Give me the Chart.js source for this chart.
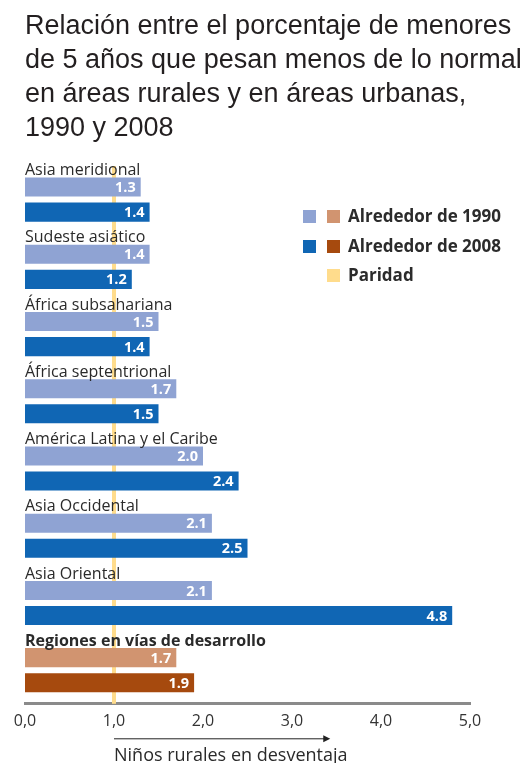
<!DOCTYPE html>
<html>
<head>
<meta charset="utf-8">
<script src="https://cdn.jsdelivr.net/npm/chart.js@4.4.1/dist/chart.umd.min.js"></script>
<style>
  body { margin: 0; background: #fff; }
  #wrap { position: relative; width: 526px; height: 763px; }
  #title {
    position: absolute; left: 25px; top: 8px;
    font-family: "Liberation Sans", Arial, sans-serif; font-size: 27px; line-height: 34px;
    color: #231f20;
  }
  .leg { position: absolute; font-family: "Open Sans", sans-serif; font-weight: bold; font-size: 17px; color: #2b2b2b; }
  .sw { position: absolute; width: 13px; height: 13px; }
  canvas { position: absolute; left: 0; top: 0; }
</style>
</head>
<body>
<div id="wrap">
  <canvas id="chart" width="526" height="763"></canvas>
  <div id="title">Relación entre el porcentaje de menores<br>de 5 años que pesan menos de lo normal<br>en áreas rurales y en áreas urbanas,<br>1990 y 2008</div>
  <div class="sw" style="left:303px;top:210px;background:#8fa3d3"></div>
  <div class="sw" style="left:327px;top:210px;background:#d19470"></div>
  <div class="leg" style="left:348px;top:204px">Alrededor de 1990</div>
  <div class="sw" style="left:303px;top:240px;background:#1066b4"></div>
  <div class="sw" style="left:327px;top:240px;background:#a64a0e"></div>
  <div class="leg" style="left:348px;top:234px">Alrededor de 2008</div>
  <div class="sw" style="left:327px;top:269px;background:#ffdc8c"></div>
  <div class="leg" style="left:348px;top:263px">Paridad</div>
</div>
<script>
const regions = ['Asia meridional', 'Sudeste asiático', 'África subsahariana', 'África septentrional',
  'América Latina y el Caribe', 'Asia Occidental', 'Asia Oriental', 'Regiones en vías de desarrollo'];
const around1990 = [1.3, 1.4, 1.5, 1.7, 2.0, 2.1, 2.1, 1.7];
const around2008 = [1.4, 1.2, 1.4, 1.5, 2.4, 2.5, 4.8, 1.9];
const xTicks = [0, 1, 2, 3, 4, 5];
const parity = 1.0;

const color1990 = regions.map((r, i) => i === regions.length - 1 ? '#d19470' : '#8fa3d3');
const color2008 = regions.map((r, i) => i === regions.length - 1 ? '#a64a0e' : '#1066b4');

const extras = {
  id: 'extras',
  beforeDatasetsDraw(chart) {
    const { ctx, chartArea, scales: { x } } = chart;
    const px = x.getPixelForValue(parity);
    ctx.save();
    ctx.fillStyle = '#ffdc8c';
    ctx.fillRect(px - 2, chartArea.top, 4, chartArea.bottom - chartArea.top);
    ctx.restore();
  },
  afterDatasetsDraw(chart) {
    const { ctx, scales: { x, y } } = chart;
    ctx.save();
    // region labels above each pair of bars
    ctx.fillStyle = '#2a2a2a';
    ctx.textBaseline = 'middle';
    ctx.textAlign = 'left';
    regions.forEach((r, i) => {
      const last = i === regions.length - 1;
      ctx.font = (last ? 'bold ' : '') + '16px "Open Sans", sans-serif';
      ctx.fillText(r, x.left, y.getPixelForValue(i) - 29);
    });
    // value labels inside bars
    ctx.fillStyle = '#fff';
    ctx.textAlign = 'right';
    ctx.font = 'bold 14.5px "Open Sans", sans-serif';
    chart.data.datasets.forEach((ds, di) => {
      chart.getDatasetMeta(di).data.forEach((bar, i) => {
        ctx.fillText(ds.data[i].toFixed(1), bar.x - 5, bar.y + 1);
      });
    });
    ctx.restore();
  },
  afterDraw(chart) {
    const { ctx, scales: { x } } = chart;
    const x0 = x.getPixelForValue(1.0);
    const x1 = x.getPixelForValue(3.43);
    const ya = x.top + 35;
    ctx.save();
    ctx.strokeStyle = '#222';
    ctx.fillStyle = '#222';
    ctx.lineWidth = 1;
    ctx.beginPath();
    ctx.moveTo(x0, ya);
    ctx.lineTo(x1 - 5, ya);
    ctx.stroke();
    ctx.beginPath();
    ctx.moveTo(x1, ya);
    ctx.lineTo(x1 - 7, ya - 3.5);
    ctx.lineTo(x1 - 7, ya + 3.5);
    ctx.closePath();
    ctx.fill();
    ctx.font = '18px "Open Sans", sans-serif';
    ctx.fillStyle = '#2a2a2a';
    ctx.textAlign = 'left';
    ctx.textBaseline = 'middle';
    ctx.fillText('Niños rurales en desventaja', x0, ya + 17);
    ctx.restore();
  }
};

new Chart(document.getElementById('chart'), {
  type: 'bar',
  data: {
    labels: regions,
    datasets: [
      { label: 'Alrededor de 1990', data: around1990, backgroundColor: color1990 },
      { label: 'Alrededor de 2008', data: around2008, backgroundColor: color2008 }
    ]
  },
  options: {
    indexAxis: 'y',
    responsive: false,
    animation: false,
    devicePixelRatio: 1,
    categoryPercentage: 0.746,
    barPercentage: 0.76,
    layout: { padding: { left: 25, right: 56, top: 166, bottom: 24 } },
    plugins: { legend: { display: false }, tooltip: { enabled: false } },
    scales: {
      y: { display: false },
      x: {
        min: 0,
        max: 5,
        afterBuildTicks(axis) { axis.ticks = xTicks.map(v => ({ value: v })); },
        grid: { display: false, drawTicks: false },
        border: { display: true, color: '#8a8a8a', width: 3 },
        ticks: {
          padding: 8,
          color: '#333',
          font: { family: '"Open Sans", sans-serif', size: 16 },
          callback: v => v.toFixed(1).replace('.', ',')
        }
      }
    }
  },
  plugins: [extras]
});
</script>
</body>
</html>
